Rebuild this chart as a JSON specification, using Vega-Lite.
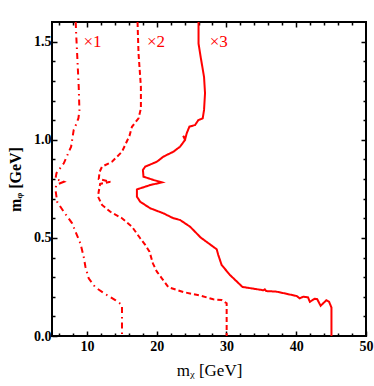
{
  "$schema": "https://vega.github.io/schema/vega-lite/v6.json",
  "width": 314,
  "height": 314,
  "autosize": "none",
  "padding": {"left": 52, "top": 22, "right": 8, "bottom": 50},
  "background": "white",
  "config": {
    "view": {"stroke": "black", "strokeWidth": 2},
    "axis": {
      "domain": false,
      "grid": false,
      "tickColor": "black",
      "tickWidth": 1.5,
      "labelFont": "Liberation Serif",
      "labelFontWeight": "bold",
      "labelFontSize": 14,
      "labelColor": "black",
      "titleFont": "Liberation Serif, DejaVu Serif",
      "titleFontSize": 17,
      "titleColor": "black"
    }
  },
  "datasets": {
    "curves": [
      {"s": "x1", "i": 1, "x": 8.4, "y": 1.6},
      {"s": "x1", "i": 2, "x": 8.45, "y": 1.55},
      {"s": "x1", "i": 3, "x": 8.6, "y": 1.44},
      {"s": "x1", "i": 4, "x": 8.83, "y": 1.27},
      {"s": "x1", "i": 5, "x": 8.93, "y": 1.15},
      {"s": "x1", "i": 6, "x": 8.79, "y": 1.11},
      {"s": "x1", "i": 7, "x": 8.31, "y": 1.065},
      {"s": "x1", "i": 8, "x": 8.11, "y": 1.05},
      {"s": "x1", "i": 9, "x": 7.74, "y": 0.965},
      {"s": "x1", "i": 10, "x": 6.69, "y": 0.88},
      {"s": "x1", "i": 11, "x": 5.64, "y": 0.83},
      {"s": "x1", "i": 12, "x": 5.5, "y": 0.8},
      {"s": "x1", "i": 13, "x": 6.7, "y": 0.786},
      {"s": "x1", "i": 14, "x": 5.6, "y": 0.77},
      {"s": "x1", "i": 15, "x": 5.5, "y": 0.745},
      {"s": "x1", "i": 16, "x": 5.74, "y": 0.684},
      {"s": "x1", "i": 17, "x": 6.69, "y": 0.633},
      {"s": "x1", "i": 18, "x": 7.89, "y": 0.574},
      {"s": "x1", "i": 19, "x": 8.5, "y": 0.52},
      {"s": "x1", "i": 20, "x": 9.07, "y": 0.472},
      {"s": "x1", "i": 21, "x": 9.54, "y": 0.404},
      {"s": "x1", "i": 22, "x": 9.79, "y": 0.353},
      {"s": "x1", "i": 23, "x": 10.26, "y": 0.294},
      {"s": "x1", "i": 24, "x": 11.21, "y": 0.248},
      {"s": "x1", "i": 25, "x": 12.64, "y": 0.214},
      {"s": "x1", "i": 26, "x": 14.07, "y": 0.183},
      {"s": "x1", "i": 27, "x": 15.03, "y": 0.158},
      {"s": "x1", "i": 28, "x": 15.03, "y": 0},
      {"s": "x2", "i": 1, "x": 17.26, "y": 1.6},
      {"s": "x2", "i": 2, "x": 17.3, "y": 1.55},
      {"s": "x2", "i": 3, "x": 17.4, "y": 1.44},
      {"s": "x2", "i": 4, "x": 17.74, "y": 1.27},
      {"s": "x2", "i": 5, "x": 17.74, "y": 1.16},
      {"s": "x2", "i": 6, "x": 17.4, "y": 1.109},
      {"s": "x2", "i": 7, "x": 16.46, "y": 1.066},
      {"s": "x2", "i": 8, "x": 16.1, "y": 1.02},
      {"s": "x2", "i": 9, "x": 15.03, "y": 0.939},
      {"s": "x2", "i": 10, "x": 13.6, "y": 0.888},
      {"s": "x2", "i": 11, "x": 12.17, "y": 0.863},
      {"s": "x2", "i": 12, "x": 11.83, "y": 0.837},
      {"s": "x2", "i": 13, "x": 11.7, "y": 0.8},
      {"s": "x2", "i": 14, "x": 13.36, "y": 0.786},
      {"s": "x2", "i": 15, "x": 11.9, "y": 0.775},
      {"s": "x2", "i": 16, "x": 11.69, "y": 0.735},
      {"s": "x2", "i": 17, "x": 11.6, "y": 0.71},
      {"s": "x2", "i": 18, "x": 12.17, "y": 0.668},
      {"s": "x2", "i": 19, "x": 13.36, "y": 0.633},
      {"s": "x2", "i": 20, "x": 15.03, "y": 0.6},
      {"s": "x2", "i": 21, "x": 16.46, "y": 0.557},
      {"s": "x2", "i": 22, "x": 17.2, "y": 0.52},
      {"s": "x2", "i": 23, "x": 17.64, "y": 0.498},
      {"s": "x2", "i": 24, "x": 18.36, "y": 0.464},
      {"s": "x2", "i": 25, "x": 18.97, "y": 0.43},
      {"s": "x2", "i": 26, "x": 19.46, "y": 0.37},
      {"s": "x2", "i": 27, "x": 20.03, "y": 0.328},
      {"s": "x2", "i": 28, "x": 20.74, "y": 0.294},
      {"s": "x2", "i": 29, "x": 21.69, "y": 0.248},
      {"s": "x2", "i": 30, "x": 23.83, "y": 0.224},
      {"s": "x2", "i": 31, "x": 26.46, "y": 0.204},
      {"s": "x2", "i": 32, "x": 28.11, "y": 0.187},
      {"s": "x2", "i": 33, "x": 29.3, "y": 0.183},
      {"s": "x2", "i": 34, "x": 30.03, "y": 0.167},
      {"s": "x2", "i": 35, "x": 30.03, "y": 0},
      {"s": "x3", "i": 1, "x": 26.0, "y": 1.6},
      {"s": "x3", "i": 2, "x": 26.0, "y": 1.49},
      {"s": "x3", "i": 3, "x": 26.3, "y": 1.423},
      {"s": "x3", "i": 4, "x": 26.79, "y": 1.32},
      {"s": "x3", "i": 5, "x": 26.93, "y": 1.237},
      {"s": "x3", "i": 6, "x": 26.79, "y": 1.152},
      {"s": "x3", "i": 7, "x": 26.6, "y": 1.109},
      {"s": "x3", "i": 8, "x": 25.97, "y": 1.1},
      {"s": "x3", "i": 9, "x": 25.5, "y": 1.075},
      {"s": "x3", "i": 10, "x": 24.69, "y": 1.067},
      {"s": "x3", "i": 11, "x": 24.31, "y": 1.033},
      {"s": "x3", "i": 12, "x": 24.1, "y": 1.005},
      {"s": "x3", "i": 13, "x": 23.8, "y": 1.02},
      {"s": "x3", "i": 14, "x": 24.07, "y": 0.999},
      {"s": "x3", "i": 15, "x": 23.36, "y": 0.965},
      {"s": "x3", "i": 16, "x": 22.4, "y": 0.939},
      {"s": "x3", "i": 17, "x": 20.97, "y": 0.914},
      {"s": "x3", "i": 18, "x": 20.03, "y": 0.888},
      {"s": "x3", "i": 19, "x": 18.36, "y": 0.863},
      {"s": "x3", "i": 20, "x": 18.03, "y": 0.846},
      {"s": "x3", "i": 21, "x": 18.11, "y": 0.812},
      {"s": "x3", "i": 22, "x": 19.54, "y": 0.795},
      {"s": "x3", "i": 23, "x": 20.74, "y": 0.783},
      {"s": "x3", "i": 24, "x": 19.07, "y": 0.769},
      {"s": "x3", "i": 25, "x": 17.17, "y": 0.747},
      {"s": "x3", "i": 26, "x": 17.17, "y": 0.71},
      {"s": "x3", "i": 27, "x": 17.64, "y": 0.684},
      {"s": "x3", "i": 28, "x": 19.07, "y": 0.651},
      {"s": "x3", "i": 29, "x": 20.97, "y": 0.625},
      {"s": "x3", "i": 30, "x": 22.4, "y": 0.6},
      {"s": "x3", "i": 31, "x": 23.36, "y": 0.591},
      {"s": "x3", "i": 32, "x": 24.79, "y": 0.557},
      {"s": "x3", "i": 33, "x": 26.3, "y": 0.502},
      {"s": "x3", "i": 34, "x": 28.6, "y": 0.442},
      {"s": "x3", "i": 35, "x": 28.83, "y": 0.413},
      {"s": "x3", "i": 36, "x": 29.31, "y": 0.362},
      {"s": "x3", "i": 37, "x": 30.5, "y": 0.311},
      {"s": "x3", "i": 38, "x": 32.3, "y": 0.25},
      {"s": "x3", "i": 39, "x": 35.3, "y": 0.233},
      {"s": "x3", "i": 40, "x": 35.5, "y": 0.238},
      {"s": "x3", "i": 41, "x": 35.7, "y": 0.229},
      {"s": "x3", "i": 42, "x": 37.17, "y": 0.226},
      {"s": "x3", "i": 43, "x": 40.05, "y": 0.204},
      {"s": "x3", "i": 44, "x": 40.5, "y": 0.192},
      {"s": "x3", "i": 45, "x": 41.0, "y": 0.2},
      {"s": "x3", "i": 46, "x": 41.69, "y": 0.197},
      {"s": "x3", "i": 47, "x": 41.95, "y": 0.174},
      {"s": "x3", "i": 48, "x": 42.64, "y": 0.19},
      {"s": "x3", "i": 49, "x": 43.0, "y": 0.188},
      {"s": "x3", "i": 50, "x": 43.5, "y": 0.154},
      {"s": "x3", "i": 51, "x": 44.31, "y": 0.182},
      {"s": "x3", "i": 52, "x": 44.7, "y": 0.175},
      {"s": "x3", "i": 53, "x": 45.05, "y": 0.145},
      {"s": "x3", "i": 54, "x": 45.05, "y": 0}
    ],
    "labels": [
      {"t": "×1", "x": 9.5, "y": 1.5},
      {"t": "×2", "x": 18.6, "y": 1.5},
      {"t": "×3", "x": 27.6, "y": 1.5}
    ]
  },
  "layer": [
    {
      "data": {"name": "curves"},
      "mark": {"type": "line", "color": "#ff0000", "strokeWidth": 2, "clip": true},
      "encoding": {
        "x": {
          "field": "x", "type": "quantitative",
          "scale": {"domain": [5, 50], "nice": false, "zero": false},
          "axis": {
            "orient": "bottom",
            "values": [6,8,10,12,14,16,18,20,22,24,26,28,30,32,34,36,38,40,42,44,46,48,50],
            "labelExpr": "datum.value % 10 === 0 ? datum.value : ''",
            "tickSize": {"condition": {"test": "datum.value % 10 === 0", "value": -5}, "value": -3},
            "labelPadding": 8,
            "labelFlush": false,
            "title": "mᵪ [GeV]",
            "titlePadding": 9,
            "titleFontWeight": "normal"
          }
        },
        "y": {
          "field": "y", "type": "quantitative",
          "scale": {"domain": [0, 1.6], "nice": false},
          "axis": {
            "orient": "left",
            "values": [0,0.1,0.2,0.3,0.4,0.5,0.6,0.7,0.8,0.9,1.0,1.1,1.2,1.3,1.4,1.5],
            "labelExpr": "abs(datum.value*2 - round(datum.value*2)) < 0.001 ? format(datum.value, '.1f') : ''",
            "tickSize": {"condition": {"test": "abs(datum.value*2 - round(datum.value*2)) < 0.001", "value": -5}, "value": -3},
            "labelPadding": 6,
            "labelFlush": false,
            "title": "mᵩ [GeV]",
            "titlePadding": 10,
            "titleFontSize": 16,
            "titleFontWeight": "bold"
          }
        },
        "detail": {"field": "s"},
        "order": {"field": "i", "type": "quantitative"},
        "strokeDash": {
          "field": "s", "type": "nominal",
          "scale": {"domain": ["x1", "x2", "x3"], "range": [[6, 4, 1.5, 4], [5, 3], [1, 0]]},
          "legend": null
        }
      }
    },
    {
      "data": {"name": "labels"},
      "mark": {"type": "text", "align": "left", "baseline": "middle", "color": "#ff0000", "font": "Liberation Serif", "fontSize": 17},
      "encoding": {
        "x": {
          "field": "x", "type": "quantitative",
          "scale": {"domain": [5, 50], "nice": false, "zero": false},
          "axis": {
            "orient": "top",
            "values": [6,8,10,12,14,16,18,20,22,24,26,28,30,32,34,36,38,40,42,44,46,48],
            "labels": false,
            "tickSize": {"condition": {"test": "datum.value % 10 === 0", "value": -5}, "value": -3},
            "title": null
          }
        },
        "y": {
          "field": "y", "type": "quantitative",
          "scale": {"domain": [0, 1.6], "nice": false},
          "axis": {
            "orient": "right",
            "values": [0.1,0.2,0.3,0.4,0.5,0.6,0.7,0.8,0.9,1.0,1.1,1.2,1.3,1.4,1.5],
            "labels": false,
            "tickSize": {"condition": {"test": "abs(datum.value*2 - round(datum.value*2)) < 0.001", "value": -5}, "value": -3},
            "title": null
          }
        },
        "text": {"field": "t"}
      }
    }
  ],
  "resolve": {"axis": {"x": "independent", "y": "independent"}}
}
